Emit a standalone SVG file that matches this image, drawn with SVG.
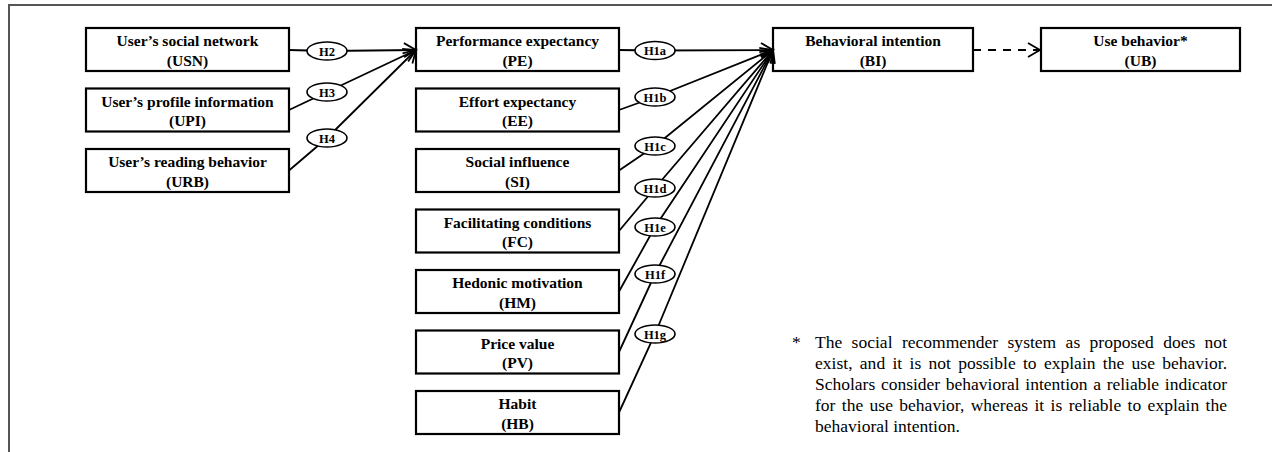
<svg xmlns="http://www.w3.org/2000/svg" width="1272" height="452" viewBox="0 0 1272 452">
<style>
.box{fill:#fff;stroke:#000;stroke-width:2.2}
.t{font-family:"Liberation Serif","Times New Roman",serif;font-weight:bold;font-size:15.5px;text-anchor:middle;fill:#000}
.lbl{fill:#fff;stroke:#000;stroke-width:1.6}
.lt{font-family:"Liberation Serif","Times New Roman",serif;font-weight:bold;font-size:12.5px;text-anchor:middle;fill:#000}
.c{fill:none;stroke:#000;stroke-width:1.8;marker-end:url(#arr)}
.d{fill:none;stroke:#000;stroke-width:1.8;stroke-dasharray:8 7;marker-end:url(#arr)}
.fn{font-family:"Liberation Serif","Times New Roman",serif;font-size:17.5px;fill:#000}
.frame{stroke:#555;stroke-width:2;fill:none}
</style>
<defs>
<marker id="arr" markerUnits="userSpaceOnUse" markerWidth="16" markerHeight="18" refX="12" refY="7" orient="auto" overflow="visible">
<path d="M0,0 L12,7 L0,14" fill="none" stroke="#000" stroke-width="1.8"/>
</marker>
</defs>
<rect width="1272" height="452" fill="#fff"/>
<path class="frame" d="M9,452 L9,5 L1272,5"/>

<g id="USN"><rect class="box" x="86" y="28" width="203" height="43"/><text class="t" x="187.5" y="46">User’s social network</text><text class="t" x="187.5" y="65.5">(USN)</text></g>
<g id="UPI"><rect class="box" x="86" y="88.5" width="203" height="43"/><text class="t" x="187.5" y="106.5">User’s profile information</text><text class="t" x="187.5" y="126">(UPI)</text></g>
<g id="URB"><rect class="box" x="86" y="149" width="203" height="43"/><text class="t" x="187.5" y="167">User’s reading behavior</text><text class="t" x="187.5" y="186.5">(URB)</text></g>

<g id="PE"><rect class="box" x="416" y="28" width="203" height="43"/><text class="t" x="517.5" y="46">Performance expectancy</text><text class="t" x="517.5" y="65.5">(PE)</text></g>
<g id="EE"><rect class="box" x="416" y="88.5" width="203" height="43"/><text class="t" x="517.5" y="106.5">Effort expectancy</text><text class="t" x="517.5" y="126">(EE)</text></g>
<g id="SI"><rect class="box" x="416" y="149" width="203" height="43"/><text class="t" x="517.5" y="167">Social influence</text><text class="t" x="517.5" y="186.5">(SI)</text></g>
<g id="FC"><rect class="box" x="416" y="209.5" width="203" height="43"/><text class="t" x="517.5" y="227.5">Facilitating conditions</text><text class="t" x="517.5" y="247">(FC)</text></g>
<g id="HM"><rect class="box" x="416" y="270" width="203" height="43"/><text class="t" x="517.5" y="288">Hedonic motivation</text><text class="t" x="517.5" y="307.5">(HM)</text></g>
<g id="PV"><rect class="box" x="416" y="330.5" width="203" height="43"/><text class="t" x="517.5" y="348.5">Price value</text><text class="t" x="517.5" y="368">(PV)</text></g>
<g id="HB"><rect class="box" x="416" y="391" width="203" height="43"/><text class="t" x="517.5" y="409">Habit</text><text class="t" x="517.5" y="428.5">(HB)</text></g>

<g id="BI"><rect class="box" x="773" y="28" width="200" height="43"/><text class="t" x="873" y="46">Behavioral intention</text><text class="t" x="873" y="65.5">(BI)</text></g>
<g id="UB"><rect class="box" x="1041" y="28" width="199" height="43"/><text class="t" x="1140.5" y="46">Use behavior*</text><text class="t" x="1140.5" y="65.5">(UB)</text></g>

<g id="connectors">
<path class="c" d="M289,50 L327,51 L416,50"/>
<path class="c" d="M289,110 L327,92 L416,50"/>
<path class="c" d="M289,170.5 L327,138 L416,50"/>
<path class="c" d="M619,50 L655,50.5 L773,50"/>
<path class="c" d="M619,110 L655,97 L773,50"/>
<path class="c" d="M619,170.5 L655,146 L773,50"/>
<path class="c" d="M619,231 L655,188 L773,50"/>
<path class="c" d="M619,291.5 L655,227 L773,50"/>
<path class="c" d="M619,352 L655,274 L773,50"/>
<path class="c" d="M619,412.5 L655,334 L773,50"/>
<path class="d" d="M973,50 L1040,50"/>
<g id="labels">
<ellipse class="lbl" cx="327" cy="51" rx="20" ry="9"/><text class="lt" x="327" y="55.5">H2</text>
<ellipse class="lbl" cx="327" cy="92" rx="20" ry="9"/><text class="lt" x="327" y="96.5">H3</text>
<ellipse class="lbl" cx="327" cy="138" rx="20" ry="9"/><text class="lt" x="327" y="142.5">H4</text>
<ellipse class="lbl" cx="655" cy="50.5" rx="20" ry="9"/><text class="lt" x="655" y="55">H1a</text>
<ellipse class="lbl" cx="655" cy="97" rx="20" ry="9"/><text class="lt" x="655" y="101.5">H1b</text>
<ellipse class="lbl" cx="655" cy="146" rx="20" ry="9"/><text class="lt" x="655" y="150.5">H1c</text>
<ellipse class="lbl" cx="655" cy="188" rx="20" ry="9"/><text class="lt" x="655" y="192.5">H1d</text>
<ellipse class="lbl" cx="655" cy="227" rx="20" ry="9"/><text class="lt" x="655" y="231.5">H1e</text>
<ellipse class="lbl" cx="655" cy="274" rx="20" ry="9"/><text class="lt" x="655" y="278.5">H1f</text>
<ellipse class="lbl" cx="655" cy="334" rx="20" ry="9"/><text class="lt" x="655" y="338.5">H1g</text>
</g>
</g>

<g id="footnote">
<text class="fn" x="792" y="348">*</text>
<text class="fn" x="815" y="348" word-spacing="5" textLength="412" lengthAdjust="spacing">The social recommender system as proposed does not</text>
<text class="fn" x="815" y="369" word-spacing="2.9" textLength="412" lengthAdjust="spacing">exist, and it is not possible to explain the use behavior.</text>
<text class="fn" x="815" y="390" word-spacing="1.3" textLength="412" lengthAdjust="spacing">Scholars consider behavioral intention a reliable indicator</text>
<text class="fn" x="815" y="411" word-spacing="2" textLength="412" lengthAdjust="spacing">for the use behavior, whereas it is reliable to explain the</text>
<text class="fn" x="815" y="432">behavioral intention.</text>
</g>
</svg>
